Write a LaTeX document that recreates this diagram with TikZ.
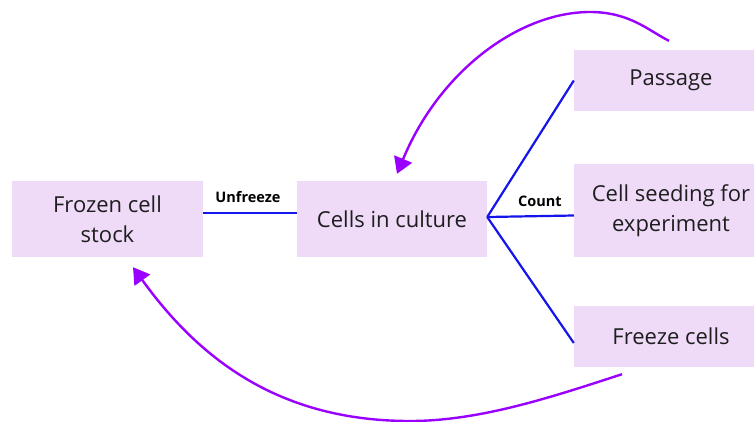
\documentclass[tikz,border=0pt]{standalone}
\usepackage{fontspec}
\setmainfont{Open Sans}
\usetikzlibrary{arrows.meta,calc}
\definecolor{boxfill}{RGB}{239,219,248}
\definecolor{arrowpurple}{RGB}{153,0,255}
\definecolor{linkblue}{RGB}{20,20,235}
\definecolor{txt}{RGB}{30,30,30}
\tikzset{
  stepbox/.style={rectangle, fill=boxfill, draw=none, inner sep=0pt, align=center,
    text=txt, font=\fontsize{22}{30}\selectfont},
  link/.style={draw=linkblue, line width=2.2pt},
  loop/.style={draw=arrowpurple, line width=2.4pt,
    -{Triangle[length=16pt,width=19pt]}, fill=none},
  lab/.style={font=\bfseries\fontsize{14.5}{16}\selectfont, text=black, inner sep=0pt}
}
\begin{document}
\begin{tikzpicture}[x=1pt,y=-1pt]
\useasboundingbox (0,0) rectangle (754,421);
\clip (0,0) rectangle (754,421);
\node[stepbox, minimum width=191pt, minimum height=76pt] (frozen) at (107.5,219) {Frozen cell\\stock};
\node[stepbox, minimum width=190pt, minimum height=76pt] (cells) at (392,219) {Cells in culture};
\node[stepbox, minimum width=194pt, minimum height=61pt] (passage) at (671,80.5) {Passage};
\node[stepbox, minimum width=194pt, minimum height=93pt] (seed) at (671,210.5) {Cell seeding for\\experiment};
\node[stepbox, minimum width=194pt, minimum height=61pt] (freeze) at (671,336.5) {Freeze cells};

\draw[link] ($(frozen.east)+(0,-6)$) -- ($(cells.west)+(0,-6)$);
\node[lab] (unfreeze) at (248,197) {Unfreeze};
\coordinate (hub) at ($(cells.east)+(0,-2)$);
\draw[link] (hub) -- (passage.west);
\draw[link] (hub) -- ($(seed.west)+(0,5)$);
\draw[link] (hub) -- ($(freeze.west)+(0,6.5)$);
\node[lab] (count) at (540,201) {Count};

\coordinate (a1s) at ($(passage.north)+(-2,-9)$);
\coordinate (a1m) at (590,12);
\coordinate (a1e) at ($(cells.north)+(5,-7)$);
\draw[loop] (a1s) .. controls (649,31) and (630,12) .. (a1m) .. controls (520,12) and (440,70) .. (a1e);

\coordinate (a2s) at ($(freeze.south)+(-49,7)$);
\coordinate (a2m) at (410,421);
\coordinate (a2e) at ($(frozen.south)+(25.5,10)$);
\draw[loop] (a2s) .. controls (552,397) and (480,421) .. (a2m) .. controls (280,421) and (200,360) .. (a2e);
\end{tikzpicture}
\end{document}
